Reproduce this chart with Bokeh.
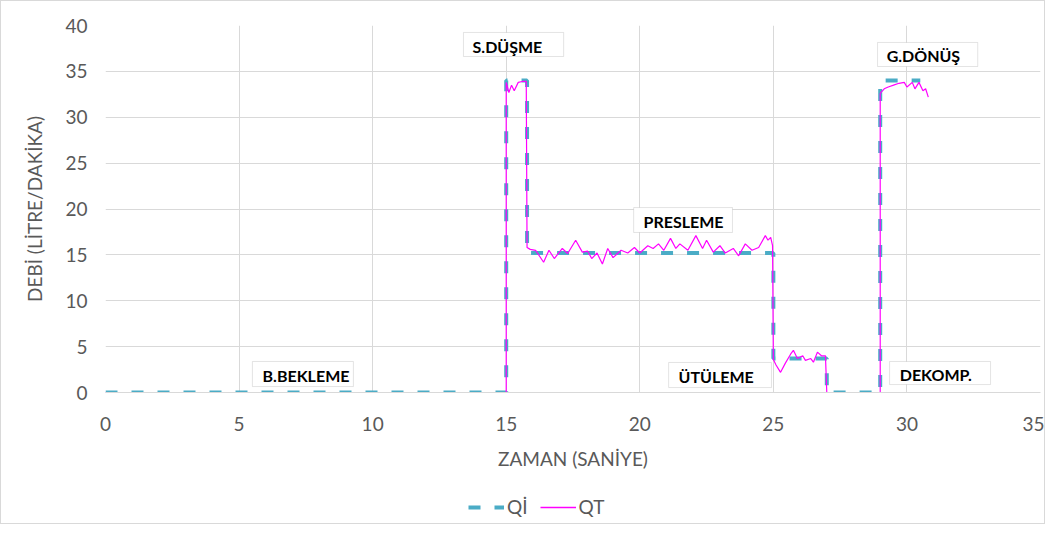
from bokeh.plotting import figure
from bokeh.models import Legend, LegendItem, Label, BoxAnnotation, FixedTicker, Range1d
from bokeh.layouts import column
from bokeh.embed import file_html
from bokeh.resources import INLINE

# ---- data ----
qi_t = [0, 15, 15, 15.78, 15.78, 25, 25, 27, 27, 29, 29, 30.5]
qi_v = [0, 0, 34, 34, 15.2, 15.2, 3.7, 3.7, 0, 0, 34, 34]

qt_t = [0, 15.0, 15.0, 15.1, 15.2, 15.3, 15.45, 15.6, 15.75, 15.78,
        15.9, 16.1, 16.4, 16.6, 16.8, 17.1, 17.3, 17.6, 17.85, 18.05,
        18.2, 18.4, 18.6, 18.8, 19.0, 19.3, 19.55, 19.8, 20.0, 20.3,
        20.5, 20.7, 20.9, 21.15, 21.35, 21.5, 21.8, 22.1, 22.35, 22.5,
        22.75, 23.0, 23.2, 23.5, 23.7, 23.95, 24.2, 24.45, 24.7, 24.8,
        24.9, 24.97, 25.0, 25.1, 25.27, 25.45, 25.65, 25.75, 25.9, 26.1,
        26.2, 26.4, 26.5, 26.65, 26.8, 26.95, 27.0, 29.0, 29.0, 29.15,
        29.3, 29.5, 29.7, 29.9, 30.0, 30.2, 30.3, 30.45, 30.6, 30.7, 30.8]
qt_v = [0, 0, 33.8, 32.7, 33.5, 32.9, 33.8, 33.9, 33.9, 15.8,
        15.6, 15.5, 14.2, 15.5, 14.6, 15.7, 15.15, 16.6, 15.3, 15.4,
        14.6, 15.2, 14.0, 15.7, 14.7, 15.5, 15.2, 15.8, 15.2, 16.0,
        15.7, 16.2, 15.5, 16.8, 15.7, 16.2, 15.5, 17.1, 15.7, 16.6,
        15.3, 16.0, 15.2, 15.7, 14.9, 16.2, 15.5, 15.8, 17.1, 16.6,
        16.9, 16.0, 3.6, 3.0, 2.2, 3.2, 4.2, 4.6, 3.7, 4.0,
        3.5, 3.7, 3.3, 4.4, 4.0, 4.0, 0, 0, 32.6, 33.1,
        33.3, 33.5, 33.7, 33.8, 33.3, 33.8, 33.1, 33.8, 32.9, 33.1, 32.2]

x_ticks = [0, 5, 10, 15, 20, 25, 30, 35]
y_ticks = [0, 5, 10, 15, 20, 25, 30, 35, 40]

series_names = ["Qİ", "QT"]
phase_names = ["S.DÜŞME", "PRESLEME", "ÜTÜLEME", "DEKOMP.", "G.DÖNÜŞ", "B.BEKLEME"]
# box positions (left, right, bottom, top) in data space
phase_boxes = [(13.40, 17.15, 36.62, 39.24),
               (19.77, 23.47, 17.44, 20.16),
               (21.08, 24.93, 0.54, 3.27),
               (29.35, 33.13, 0.87, 3.38),
               (28.90, 32.65, 35.53, 38.15),
               (5.50, 9.28, 0.65, 3.38)]
phase_text_pos = [(13.74, 37.75), (20.14, 18.65), (21.45, 1.74),
                  (29.73, 1.95), (29.24, 36.7), (5.88, 1.85)]

FONT = "Lato"
GREY = "#595959"
QI_COLOR = "#4BACC6"
QT_COLOR = "#FF00FF"
QI_DASH = "12 14"

p = figure(width=1043, height=480, x_range=Range1d(0, 35), y_range=Range1d(0, 40),
           output_backend="svg", toolbar_location=None,
           min_border_left=104, min_border_right=4, min_border_top=24, min_border_bottom=89)
p.outline_line_color = None
p.background_fill_color = "white"
p.border_fill_color = "white"

p.xaxis.ticker = FixedTicker(ticks=x_ticks)
p.yaxis.ticker = FixedTicker(ticks=y_ticks)
for g in (p.xgrid, p.ygrid):
    g.grid_line_color = "#D9D9D9"
    g.grid_line_width = 1

for ax in (p.xaxis, p.yaxis):
    ax.major_tick_line_color = None
    ax.minor_tick_line_color = None
    ax.major_label_text_font = FONT
    ax.major_label_text_font_size = "19px"
    ax.major_label_text_color = GREY
    ax.axis_label_text_font = FONT
    ax.axis_label_text_font_size = "19px"
    ax.axis_label_text_color = GREY
    ax.axis_label_text_font_style = "normal"
p.xaxis.axis_line_color = "#D9D9D9"
p.yaxis.axis_line_color = None
p.xaxis.axis_label = "ZAMAN (SANİYE)"
p.yaxis.axis_label = "DEBİ (LİTRE/DAKİKA)"
p.xaxis.major_label_standoff = 18
p.yaxis.major_label_standoff = 12
p.xaxis.axis_label_standoff = 13
p.yaxis.axis_label_standoff = 16

p.line(qi_t, qi_v, line_color=QI_COLOR, line_width=4, line_dash=QI_DASH)
p.line(qt_t, qt_v, line_color=QT_COLOR, line_width=1.2)

for name, (l, r, b, t), (tx, ty) in zip(phase_names, phase_boxes, phase_text_pos):
    p.add_layout(BoxAnnotation(left=l, right=r, bottom=b, top=t, fill_color="white",
                               fill_alpha=1, line_color="#A6A6A6", line_width=1))
    p.add_layout(Label(x=tx, y=ty, text=name, text_font=FONT, text_font_style="bold",
                       text_font_size="16px", text_color="black",
                       text_baseline="middle", text_align="left"))

# legend strip below the chart (its view range is empty of data, only the legend shows)
p2 = figure(width=1043, height=42, x_range=Range1d(100, 101), y_range=Range1d(100, 101),
            output_backend="svg", toolbar_location=None,
            x_axis_location=None, y_axis_location=None,
            min_border=0, min_border_left=0, min_border_right=0,
            min_border_top=0, min_border_bottom=0)
p2.grid.visible = False
p2.outline_line_color = None
p2.background_fill_color = "white"
p2.border_fill_color = "white"
l_qi = p2.line(qi_t, qi_v, line_color=QI_COLOR, line_width=4, line_dash=QI_DASH)
l_qt = p2.line(qt_t, qt_v, line_color=QT_COLOR, line_width=1.5)
legend = Legend(items=[LegendItem(label=series_names[0], renderers=[l_qi]),
                       LegendItem(label=series_names[1], renderers=[l_qt])],
                location=(363, 5), orientation="horizontal",
                label_text_font=FONT, label_text_font_size="19px", label_text_color=GREY,
                glyph_width=36, label_standoff=3, spacing=12, padding=4, margin=0,
                border_line_color=None, background_fill_alpha=0)
p2.add_layout(legend, "center")

layout = column(p, p2, spacing=0)
layout.styles = {"border": "1px solid #D9D9D9"}

open("out.html", "w").write(file_html(layout, INLINE))
